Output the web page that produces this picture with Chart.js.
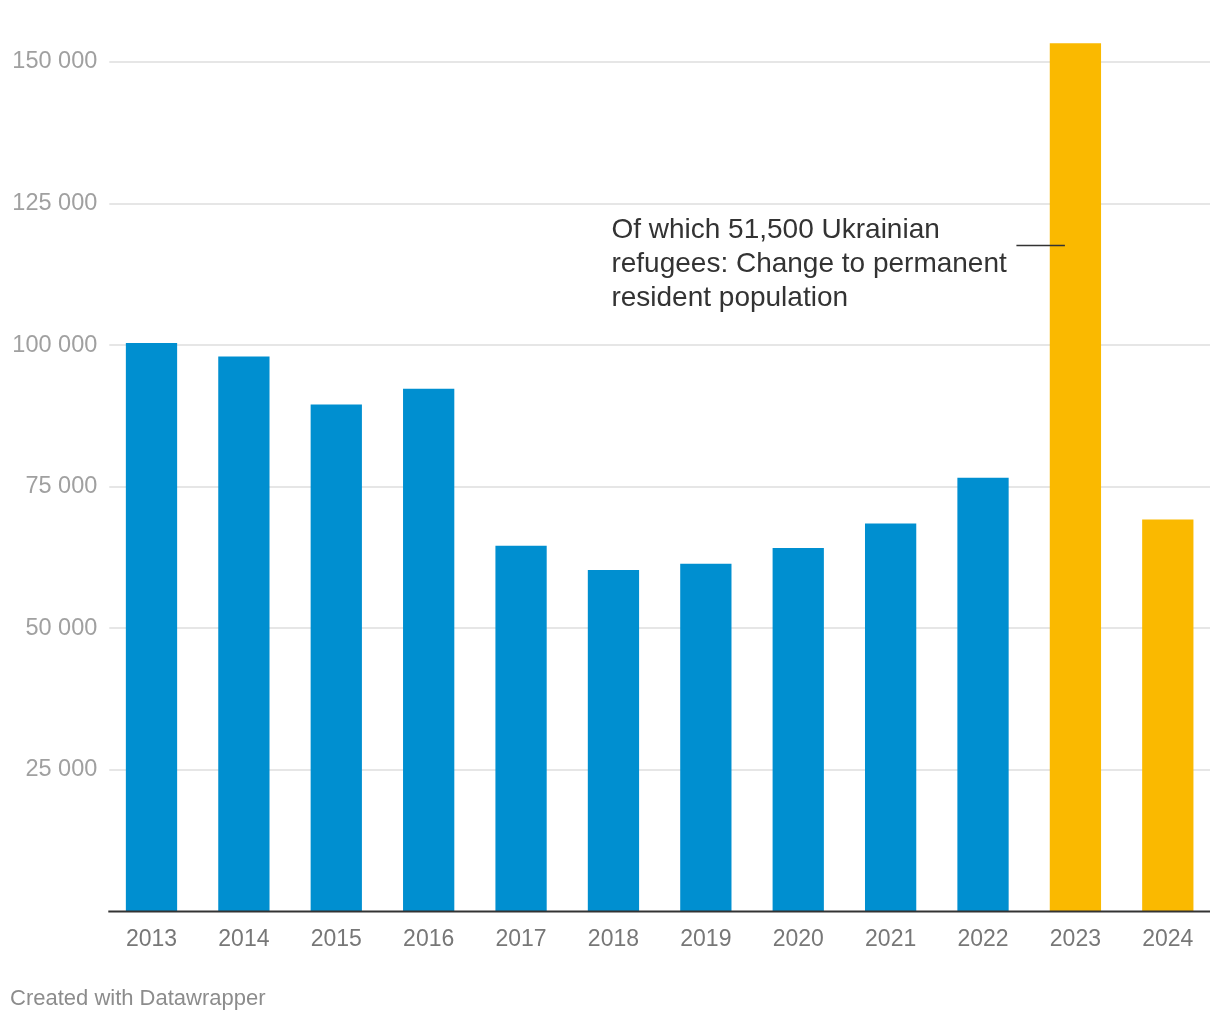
<!DOCTYPE html>
<html>
<head>
<meta charset="utf-8">
<script src="https://cdn.jsdelivr.net/npm/chart.js@4.4.1/dist/chart.umd.min.js"></script>
<style>
  html, body { margin: 0; padding: 0; background: #ffffff; }
  #wrap { position: relative; width: 1220px; height: 1020px; }
  canvas { display: block; }
</style>
</head>
<body>
<div id="wrap"><canvas id="c" width="1220" height="1020"></canvas></div>
<script>
const years = ["2013","2014","2015","2016","2017","2018","2019","2020","2021","2022","2023","2024"];
const values = [100400, 98000, 89500, 92300, 64600, 60300, 61400, 64200, 68500, 76600, 153300, 69200];
const highlightYears = ["2023","2024"];
const yTicks = [25000, 50000, 75000, 100000, 125000, 150000];
const annotationLines = ["Of which 51,500 Ukrainian", "refugees: Change to permanent", "resident population"];
const annotationYear = "2023";
const annotationValue = 117600;
const footerText = "Created with Datawrapper";

const BLUE = "#008fd0";
const YELLOW = "#fab900";
const FONT = "'Liberation Sans', Arial, Helvetica, sans-serif";

const fmt = v => String(v).replace(/\B(?=(\d{3})+(?!\d))/g, " ");

const decor = {
  id: "decor",
  beforeDatasetsDraw(chart) {
    const ctx = chart.ctx, ca = chart.chartArea, y = chart.scales.y;
    ctx.save();
    ctx.strokeStyle = "#e6e6e6";
    ctx.lineWidth = 2;
    yTicks.forEach(v => {
      const py = Math.round(y.getPixelForValue(v));
      ctx.beginPath();
      ctx.moveTo(ca.left + 4, py);
      ctx.lineTo(ca.right - 4, py);
      ctx.stroke();
    });
    ctx.restore();
  },
  afterDatasetsDraw(chart) {
    const ctx = chart.ctx, ca = chart.chartArea, x = chart.scales.x, y = chart.scales.y;
    ctx.save();
    ctx.strokeStyle = "#333333";
    ctx.lineWidth = 2;
    const by = y.getPixelForValue(0);
    ctx.beginPath();
    ctx.moveTo(ca.left + 3, by);
    ctx.lineTo(ca.right - 4, by);
    ctx.stroke();
    const idx = years.indexOf(annotationYear);
    const cx = x.getPixelForValue(idx);
    const ay = Math.round(y.getPixelForValue(annotationValue)) + 0.5;
    ctx.lineWidth = 1.5;
    ctx.beginPath();
    ctx.moveTo(cx - 59, ay);
    ctx.lineTo(cx - 10.5, ay);
    ctx.stroke();
    ctx.fillStyle = "#333333";
    ctx.font = "28px " + FONT;
    ctx.textAlign = "left";
    ctx.textBaseline = "alphabetic";
    const tx = cx - 464;
    annotationLines.forEach((t, i) => ctx.fillText(t, tx, ay - 7.5 + i * 34));
    ctx.fillStyle = "#8c8c8c";
    ctx.font = "22px " + FONT;
    ctx.fillText(footerText, 10, 1005);
    ctx.restore();
  }
};

new Chart(document.getElementById("c"), {
  type: "bar",
  data: {
    labels: years,
    datasets: [{
      data: values,
      backgroundColor: years.map(yr => highlightYears.includes(yr) ? YELLOW : BLUE),
      borderWidth: 0,
      barPercentage: 0.555,
      categoryPercentage: 1.0
    }]
  },
  options: {
    responsive: false,
    animation: false,
    devicePixelRatio: 1,
    layout: { padding: { top: 28, right: 6, bottom: 0, left: 0 } },
    plugins: { legend: { display: false }, tooltip: { enabled: false } },
    scales: {
      x: {
        grid: { display: false, drawTicks: false },
        border: { display: false },
        ticks: {
          color: "#777777",
          font: { family: FONT, size: 23 },
          padding: 14,
          maxRotation: 0
        },
        afterFit(scale) { scale.height = 108.5; }
      },
      y: {
        min: 0,
        max: 156000,
        grid: { display: false, drawTicks: false },
        border: { display: false },
        afterBuildTicks(scale) { scale.ticks = yTicks.map(v => ({ value: v })); },
        ticks: {
          color: "#a0a0a0",
          font: { family: FONT, size: 23.5 },
          padding: 8,
          callback: v => fmt(v)
        },
        afterFit(scale) { scale.width = 105.3; }
      }
    }
  },
  plugins: [decor]
});
</script>
</body>
</html>
